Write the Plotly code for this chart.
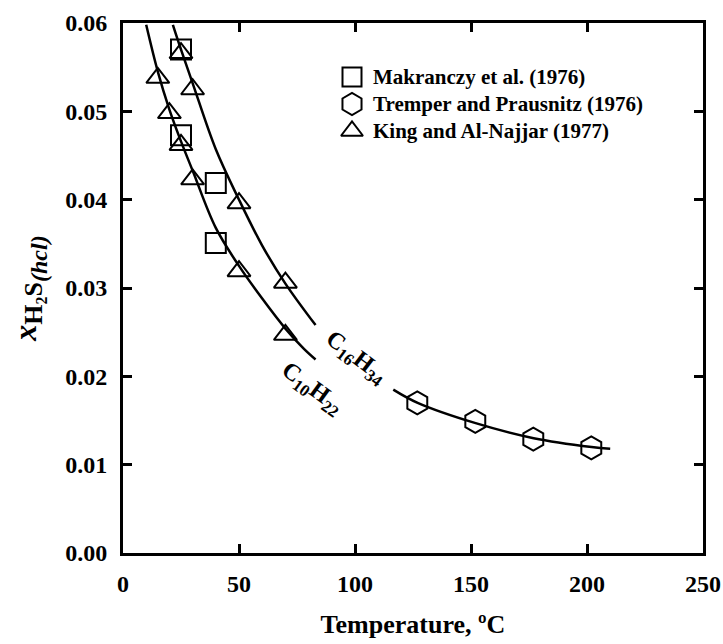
import plotly.graph_objects as go

# ---- data ----
series_names = ["Makranczy et al. (1976)", "Tremper and Prausnitz (1976)", "King and Al-Najjar (1977)"]

mak_T = [25, 25, 40, 40]
mak_x = [0.0570, 0.0473, 0.0419, 0.0351]

tre_T = [126.85, 151.85, 176.85, 201.85]
tre_x = [0.0170, 0.0149, 0.0129, 0.0119]

king_T = [15, 20, 25, 25, 30, 30, 50, 50, 70, 70]
king_x = [0.0538, 0.0498, 0.0462, 0.0566, 0.0525, 0.0423, 0.0396, 0.0319, 0.0306, 0.0247]

# fitted curves
c10_T = [10, 15, 20, 25, 30, 40, 50, 60, 70, 78, 83]
c10_x = [0.0598, 0.0545, 0.0502, 0.0466, 0.0433, 0.0368, 0.0325, 0.0288, 0.0254, 0.0231, 0.0219]

c16a_T = [21.5, 25, 30, 40, 50, 60, 70, 83]
c16a_x = [0.0598, 0.0570, 0.0532, 0.0457, 0.0400, 0.0348, 0.0305, 0.0258]

c16b_T = [116.5, 127, 152, 177, 202, 210]
c16b_x = [0.0185, 0.0170, 0.0147, 0.0130, 0.0120, 0.0118]

x_ticks = [0, 50, 100, 150, 200, 250]
y_ticks = [0.00, 0.01, 0.02, 0.03, 0.04, 0.05, 0.06]

FONT = "Liberation Serif"

# plot area lands at x 123..703, y 23..553 (page body margin removed by post_script)
PL, PR, PT, PB = 123, 703, 23, 553
W, H = 723, 644

def px_to_paper(px, py):
    return (px - PL) / (PR - PL), (PB - py) / (PB - PT)

symbols = ["square-open", "hexagon-open", "triangle-up-open"]
sizes = [20, 23, 20]

fig = go.Figure()

for T, X in [(c10_T, c10_x), (c16a_T, c16a_x), (c16b_T, c16b_x)]:
    fig.add_trace(go.Scatter(x=T, y=X, mode="lines", showlegend=False,
                             line=dict(color="black", width=2.5, shape="spline", smoothing=1.0),
                             hoverinfo="skip"))

for (T, X), name, sym, sz in zip([(mak_T, mak_x), (tre_T, tre_x), (king_T, king_x)],
                                 series_names, symbols, sizes):
    fig.add_trace(go.Scatter(x=T, y=X, mode="markers", name=name, showlegend=False,
                             marker=dict(symbol=sym, size=sz, color="black",
                                         line=dict(width=2, color="black"))))

# legend drawn on an overlay axis spanning the plot area (0..1)
leg_rows_px = [77, 104, 131]
leg_marker_px = 352
leg_text_px = 371
for name, sym, sz, ry in zip(series_names, symbols, sizes, leg_rows_px):
    mx, my = px_to_paper(leg_marker_px, ry)
    fig.add_trace(go.Scatter(x=[mx], y=[my], xaxis="x2", yaxis="y2", mode="markers",
                             showlegend=False, hoverinfo="skip",
                             marker=dict(symbol=sym, size=sz - 1, color="black",
                                         line=dict(width=2, color="black"))))
    tx, ty = px_to_paper(leg_text_px, ry)
    fig.add_annotation(x=tx, y=ty, xref="paper", yref="paper", text=name, showarrow=False,
                       xanchor="left", yanchor="middle",
                       font=dict(family=FONT, size=21, color="black", weight="bold"))

axis_common = dict(showline=True, linewidth=3, linecolor="black", mirror="ticks",
                   ticks="inside", ticklen=9, tickwidth=2.5, tickcolor="black",
                   showgrid=False, zeroline=False, automargin=False,
                   tickfont=dict(family=FONT, size=24, color="black", weight="bold"))

fig.update_layout(
    xaxis=dict(range=[0, 250], tickvals=x_ticks, ticktext=[str(v) for v in x_ticks],
               ticklabelstandoff=7,
               title=dict(text="Temperature, ºC", standoff=20,
                          font=dict(family=FONT, size=26, color="black", weight="bold")),
               **axis_common),
    yaxis=dict(range=[0, 0.06], tickvals=y_ticks, ticktext=[f"{v:.2f}" for v in y_ticks],
               ticklabelstandoff=8,
               title=dict(text=("<i>x</i><sub><span style='font-size:26px'>H</span>"
                                "<sub><span style='font-size:16px'>2</span></sub>"
                                "<span style='font-size:26px'>S</span>"
                                "<sub><i><span style='font-size:24px'>(hcl)</span></i></sub></sub>"),
                          standoff=20,
                          font=dict(family=FONT, size=32, color="black", weight="bold")),
               **axis_common),
    xaxis2=dict(range=[0, 1], overlaying="x", visible=False, automargin=False),
    yaxis2=dict(range=[0, 1], overlaying="y", visible=False, automargin=False),
)

ax, ay = px_to_paper(356, 358)
fig.add_annotation(x=ax, y=ay, xref="paper", yref="paper", text="C<sub>16</sub>H<sub>34</sub>",
                   showarrow=False, textangle=37, xanchor="center", yanchor="middle",
                   font=dict(family=FONT, size=24, color="black", weight="bold"))
ax, ay = px_to_paper(312, 389)
fig.add_annotation(x=ax, y=ay, xref="paper", yref="paper", text="C<sub>10</sub>H<sub>22</sub>",
                   showarrow=False, textangle=36, xanchor="center", yanchor="middle",
                   font=dict(family=FONT, size=24, color="black", weight="bold"))

fig.update_layout(
    width=W, height=H,
    margin=dict(l=PL, r=W - PR, t=PT, b=H - PB, autoexpand=False),
    plot_bgcolor="white", paper_bgcolor="white",
    font=dict(family=FONT, color="black", weight="bold"),
    showlegend=False,
)

fig.write_html("out.html", config={"displayModeBar": False},
               post_script="document.body.style.margin='0';document.body.style.overflow='hidden';")
